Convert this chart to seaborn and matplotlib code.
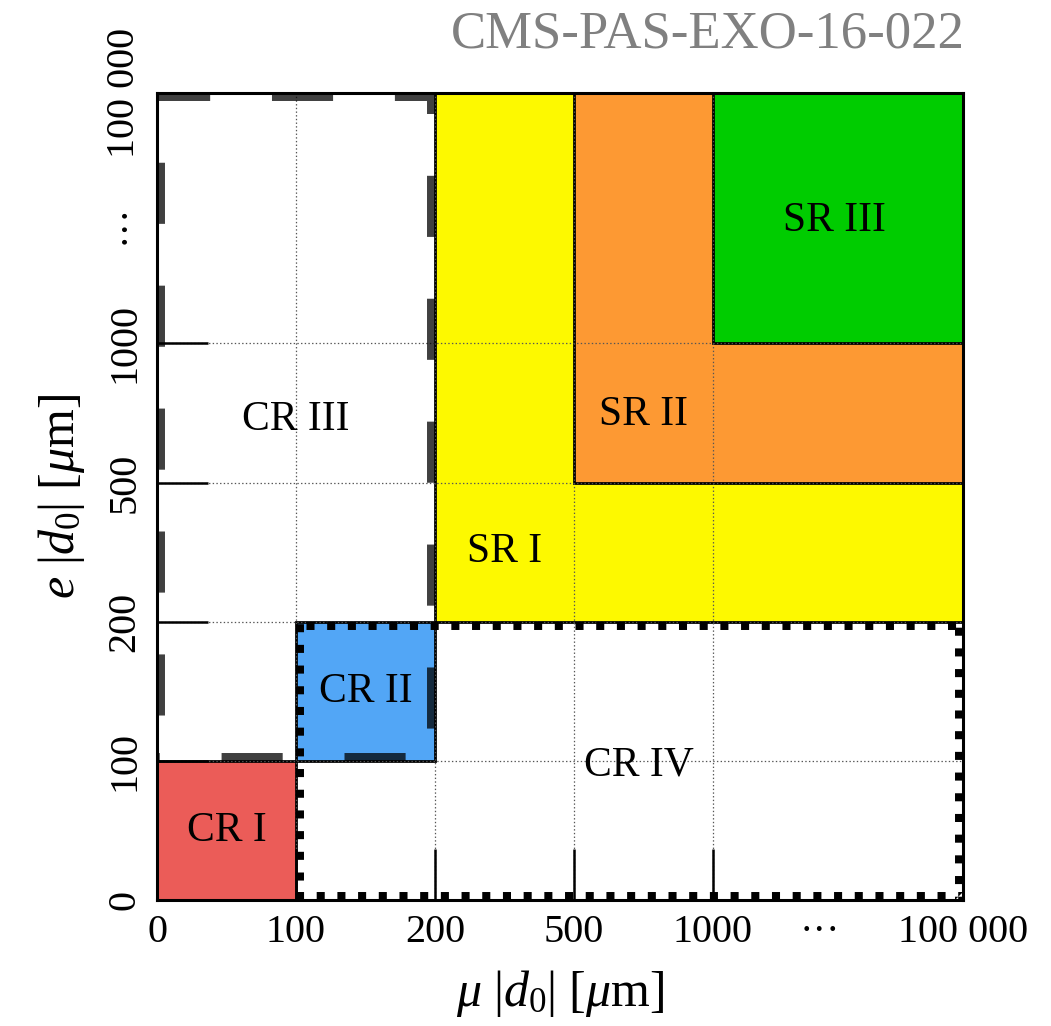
import numpy as np
import matplotlib
matplotlib.use("Agg")
import matplotlib.pyplot as plt
from matplotlib.patches import Rectangle
import seaborn as sns

# bin edges in um, and where each edge sits along the (non-linear) axis
edges = [0, 100, 200, 500, 1000, 100000]
edge_pos = [0, 1, 2, 3, 4, 5.8]
tick_labels = ["0", "100", "200", "500", "1000", "100 000"]

# signal regions (filled, nested)
sr_names = ["SR I", "SR II", "SR III"]
sr_x = [(200, 100000), (500, 100000), (1000, 100000)]
sr_y = [(200, 100000), (500, 100000), (1000, 100000)]
sr_colors = ["#fdf900", "#fd9933", "#00cc00"]
sr_label_x = [350, 750, 49400]
sr_label_y = [350, 745, 49400]

# control regions
cr_names = ["CR I", "CR II", "CR III", "CR IV"]
cr_x = [(0, 100), (100, 200), (0, 200), (100, 100000)]
cr_y = [(0, 100), (100, 200), (100, 100000), (0, 200)]
cr_label_x = [50, 150, 100, 735]
cr_label_y = [50, 150, 725, 97]


def fwd(v):
    return np.interp(v, edges, edge_pos)


def inv(p):
    return np.interp(p, edge_pos, edges)


sns.set_theme(style="white")
plt.rcParams["font.family"] = ["Liberation Serif", "DejaVu Serif"]
plt.rcParams["mathtext.fontset"] = "custom"
plt.rcParams["mathtext.rm"] = "Liberation Serif"
plt.rcParams["mathtext.it"] = "Liberation Serif:italic"
plt.rcParams["mathtext.bf"] = "Liberation Serif:bold"
plt.rcParams["lines.scale_dashes"] = False
plt.rcParams["text.color"] = "black"

fig = plt.figure(figsize=(10.51, 10.26), dpi=100)
ax = fig.add_axes([0.1494, 0.1228, 0.7666, 0.7866])
ax.set_xscale("function", functions=(fwd, inv))
ax.set_yscale("function", functions=(fwd, inv))
ax.set_xlim(0, 100000)
ax.set_ylim(0, 100000)
ax.set_axisbelow(False)


def box(x, y, **kw):
    return Rectangle((x[0], y[0]), x[1] - x[0], y[1] - y[0], **kw)


# filled regions
for x, y, c in zip(sr_x, sr_y, sr_colors):
    ax.add_patch(box(x, y, facecolor=c, edgecolor="black", lw=2.0, zorder=1))
ax.add_patch(box(cr_x[0], cr_y[0], facecolor="#eb5c58", edgecolor="black", lw=2.0, zorder=1))
ax.add_patch(box(cr_x[1], cr_y[1], facecolor="#52a6f6", edgecolor="black", lw=2.0, zorder=1))

# outlined regions: draw a double-width line and clip it to the inside
def inner_outline(x, y, ls, color):
    p = box(x, y, fill=False, edgecolor=color, lw=11.5, linestyle=ls,
            capstyle="butt", zorder=3)
    ax.add_patch(p)
    p.set_clip_path(box(x, y, transform=ax.transData))


inner_outline(cr_x[2], cr_y[2], (42, (44, 44.5)), (0, 0, 0, 0.75))
inner_outline(cr_x[3], cr_y[3], (0, (5.8, 9.1)), "black")

for name, lx, ly in zip(sr_names, sr_label_x, sr_label_y):
    ax.text(lx, ly, name, ha="center", va="center", fontsize=30, color="black", zorder=4)
for name, lx, ly in zip(cr_names, cr_label_x, cr_label_y):
    ax.text(lx, ly, name, ha="center", va="center", fontsize=30, color="black", zorder=4)

# ticks, grid and labels
ax.set_xticks(edges)
ax.set_xticklabels(tick_labels)
ax.set_yticks(edges)
ax.set_yticklabels(tick_labels, rotation=90, va="center")
ax.set_xticks([inv(4.77)], minor=True)
ax.set_xticklabels(["\u00b7\u00b7\u00b7"], minor=True)
ax.set_yticks([inv(4.86)], minor=True)
ax.set_yticklabels(["\u00b7\u00b7\u00b7"], minor=True, rotation=90, va="center")
ax.tick_params(which="both", bottom=True, left=True, top=False, right=False)
ax.tick_params(which="major", direction="in", length=37, width=1.8,
               labelsize=29, pad=10, color="black", labelcolor="black")
ax.tick_params(which="minor", length=0, labelsize=29, pad=10, labelcolor="black")
ax.grid(True, which="major", linestyle=":", color="#555555", lw=0.9)

for s in ax.spines.values():
    s.set_color("black")
    s.set_linewidth(2.2)
    s.set_zorder(5)

ax.set_xlabel(r"$\mu\ |d_0|\ [\mu\mathrm{m}]$", fontsize=36, labelpad=12, color="black")
ax.set_ylabel(r"$e\ |d_0|\ [\mu\mathrm{m}]$", fontsize=36, labelpad=14, color="black")

fig.text(0.918, 0.954, "CMS-PAS-EXO-16-022", ha="right", va="baseline",
         color="#808080", fontsize=38)

fig.savefig("out.png", dpi=100)
